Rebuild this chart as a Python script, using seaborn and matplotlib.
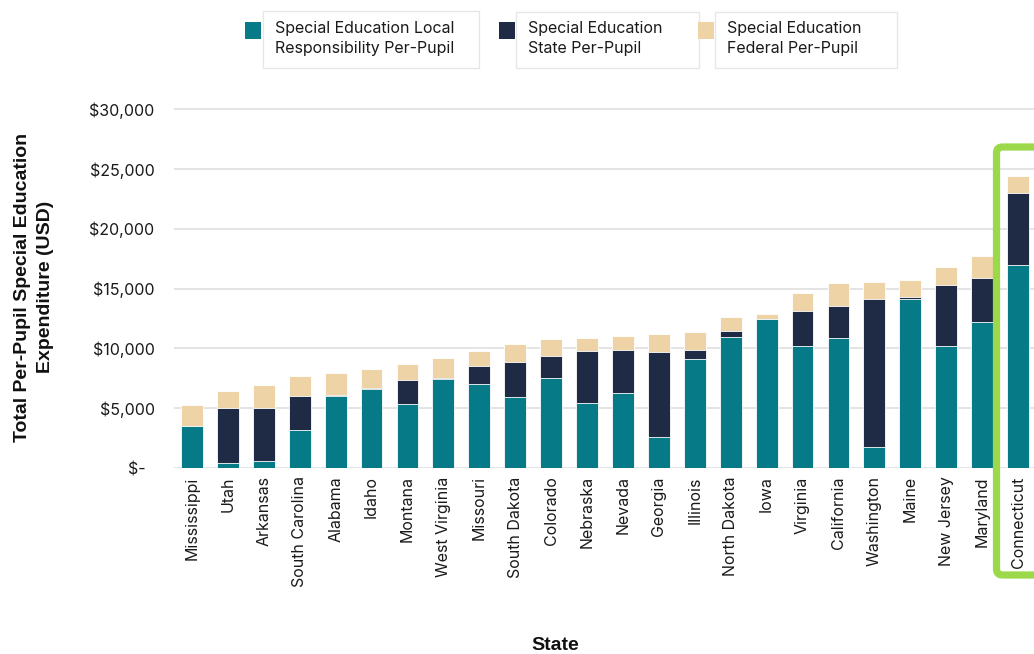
import matplotlib
matplotlib.use("Agg")
import matplotlib.pyplot as plt
from matplotlib.patches import Rectangle, FancyBboxPatch
from matplotlib.transforms import IdentityTransform
import seaborn as sns
import pandas as pd
import numpy as np

states = ["Mississippi", "Utah", "Arkansas", "South Carolina", "Alabama", "Idaho",
          "Montana", "West Virginia", "Missouri", "South Dakota", "Colorado",
          "Nebraska", "Nevada", "Georgia", "Illinois", "North Dakota", "Iowa",
          "Virginia", "California", "Washington", "Maine", "New Jersey",
          "Maryland", "Connecticut"]
local_pp = [3500, 450, 550, 3200, 6050, 6600, 5350, 7450, 7000, 5960, 7500, 5450,
            6300, 2600, 9150, 10970, 12420, 10200, 10860, 1750, 14150, 10200, 12170, 16960]
state_pp = [50, 4550, 4500, 2780, 60, 100, 2000, 100, 1500, 2890, 1830, 4320,
            3600, 7100, 750, 450, 30, 2950, 2640, 12350, 140, 5100, 3700, 5990]
federal_pp = [1700, 1400, 1850, 1670, 1800, 1550, 1300, 1650, 1300, 1550, 1450, 1130,
              1150, 1500, 1500, 1180, 450, 1450, 1950, 1470, 1410, 1500, 1810, 1470]
series_names = ["Special Education Local\nResponsibility Per-Pupil",
                "Special Education\nState Per-Pupil",
                "Special Education\nFederal Per-Pupil"]
y_ticks = [0, 5000, 10000, 15000, 20000, 25000, 30000]
y_tick_labels = ["$-  ", "$5,000", "$10,000", "$15,000", "$20,000", "$25,000", "$30,000"]

colors = ["#067b87", "#1f2a45", "#eed3a6"]

df = pd.DataFrame({"State": states, "local": local_pp, "state": state_pp, "federal": federal_pp})
df["c_local"] = df["local"]
df["c_state"] = df["local"] + df["state"]
df["c_total"] = df["c_state"] + df["federal"]

sns.set_style("white")
plt.rcParams["font.family"] = ["Inter", "DejaVu Sans"]

W, H = 1034, 654
fig = plt.figure(figsize=(W / 100, H / 100), dpi=100)
ax_left, ax_right, ax_bottom = 174, 1036, 468
ymax = 30500
px_per = (468 - 109) / 30000
ax_top = ax_bottom - ymax * px_per
ax = fig.add_axes([ax_left / W, 1 - ax_bottom / H, (ax_right - ax_left) / W, (ax_bottom - ax_top) / H])

for col, c in zip(["c_total", "c_state", "c_local"], [colors[2], colors[1], colors[0]]):
    sns.barplot(data=df, x="State", y=col, order=states, color=c, saturation=1,
                width=0.61, errorbar=None, edgecolor="white", linewidth=0.6, ax=ax, zorder=3)

ax.set_ylim(0, ymax)
ax.set_xlim(-0.5, len(states) - 0.5)
ax.set_yticks(y_ticks)
ax.set_yticklabels(y_tick_labels)
ax.yaxis.grid(True, color="#e2e2e2", linewidth=1.3, zorder=0)
ax.set_axisbelow(True)
for s in ax.spines.values():
    s.set_visible(False)
ax.tick_params(axis="y", length=0, pad=14, labelsize=11.5, labelcolor="#1a1a1a")
ax.tick_params(axis="x", length=0, pad=6, labelsize=11.5, labelcolor="#1a1a1a", rotation=90)
ax.set_xlabel("")
ax.set_ylabel("")

fig.text(34 / W, 1 - 287 / H, "Total Per-Pupil Special Education\nExpenditure (USD)",
         rotation=90, ha="center", va="center", fontsize=14, fontweight="bold",
         family=["Liberation Sans"], linespacing=1.4, color="#111111")
fig.text(555 / W, 1 - 645 / H, "State", ha="center", va="center", fontsize=14,
         fontweight="bold", family=["Liberation Sans"], color="#111111")

# legend
boxes = [(263, 11, 479, 68), (516, 12, 699, 68), (715, 12, 897, 68)]
squares = [245, 499, 698]
text_x = [275, 528, 727]
for i in range(3):
    x0, y0, x1, y1 = boxes[i]
    fig.patches.append(Rectangle((x0 / W, 1 - y1 / H), (x1 - x0) / W, (y1 - y0) / H,
                                 transform=fig.transFigure, facecolor="white",
                                 edgecolor="#e6e6e6", linewidth=0.9))
    sx = squares[i]
    fig.patches.append(Rectangle((sx / W, 1 - 38.5 / H), 16 / W, 16 / H,
                                 transform=fig.transFigure, facecolor=colors[i],
                                 edgecolor="none"))
    fig.text(text_x[i] / W, 1 - 38.5 / H, series_names[i], ha="left", va="center",
             fontsize=11.5, linespacing=1.45, color="#1a1a1a")

# highlight box
hl = FancyBboxPatch((996.5, H - 575), 70, 428, boxstyle="round,pad=0,rounding_size=6",
                    transform=IdentityTransform(), facecolor="none", edgecolor="#9bd94a",
                    linewidth=5.2)
fig.patches.append(hl)

fig.savefig("out.png", dpi=100)
